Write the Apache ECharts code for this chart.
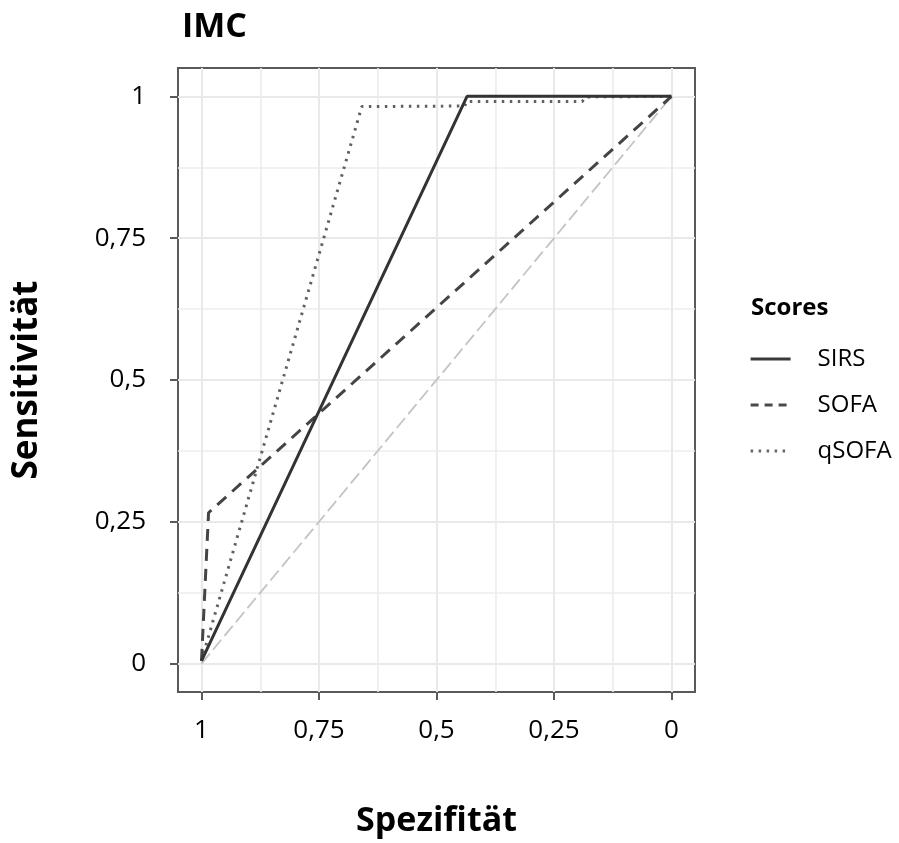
<!DOCTYPE html>
<html>
<head>
<meta charset="utf-8">
<script src="https://cdn.jsdelivr.net/npm/echarts@6/dist/echarts.min.js"></script>
<style>
html,body{margin:0;padding:0;background:#fff;}
#chart{width:899px;height:843px;}
</style>
</head>
<body>
<div id="chart"></div>
<script>
// ---- data ----
const majorTicks = [0, 0.25, 0.5, 0.75, 1];
const minorTicks = [0.125, 0.375, 0.625, 0.875];
const seriesNames = ['SIRS', 'SOFA', 'qSOFA'];

const sirsSpec = [1, 0.435, 0];
const sirsSens = [0.005, 1, 1];

const sofaSpec = [1, 0.985, 0];
const sofaSens = [0.005, 0.266, 1];

const qsofaSpec = [1, 0.659, 0.44, 0.436, 0.19, 0.182, 0];
const qsofaSens = [0.005, 0.982, 0.983, 0.991, 0.991, 0.999, 1];

const refSpec = [1, 0];
const refSens = [0, 1];

// ---- chart ----
const FONT = 'Open Sans';
const pairs = (xs, ys) => xs.map((x, i) => [x, ys[i]]);
const fmt = v => String(v).replace('.', ',');

const axisCommon = {
  type: 'value', min: -0.05, max: 1.05,
  axisLine: { show: false, onZero: false },
};

const legendDash = {
  SIRS: { type: 'solid', color: '#3a3a3a' },
  SOFA: { type: [8, 6], color: '#4a4a4a' },
  qSOFA: { type: [2.5, 5.5], color: '#666666' }
};

const chart = echarts.init(document.getElementById('chart'), null, { renderer: 'canvas' });
chart.setOption({
  animation: false,
  backgroundColor: '#ffffff',
  title: [
    { text: 'IMC', left: 177, top: 5,
      textStyle: { fontFamily: FONT, fontWeight: 'bold', fontSize: 34, color: '#000' } },
    { text: 'Scores', left: 746, top: 291,
      textStyle: { fontFamily: FONT, fontWeight: 'bold', fontSize: 24, color: '#000' } }
  ],
  legend: {
    data: seriesNames.map(n => ({ name: n, lineStyle: Object.assign({ width: 3.2 }, legendDash[n]) })),
    orient: 'vertical',
    left: 744, top: 342,
    itemWidth: 40, itemHeight: 14,
    itemGap: 22,
    itemStyle: { opacity: 0 },
    textStyle: { fontFamily: FONT, fontSize: 24, color: '#000', padding: [0, 0, 0, 22] }
  },
  grid: {
    left: 178, right: 204, top: 68, bottom: 151,
    show: true, borderColor: '#5a5a5a', borderWidth: 2, backgroundColor: '#fff',
    containLabel: false,
    outerBoundsMode: 'none'
  },
  xAxis: [
    Object.assign({}, axisCommon, {
      inverse: true, position: 'bottom',
      name: 'Spezifität', nameLocation: 'middle', nameGap: 112,
      nameTextStyle: { fontFamily: FONT, fontWeight: 'bold', fontSize: 34, color: '#000' },
      axisTick: { show: true, inside: false, length: 8, customValues: majorTicks,
        lineStyle: { color: '#5a5a5a', width: 2 } },
      axisLabel: { customValues: majorTicks, formatter: fmt, margin: 26,
        fontFamily: FONT, fontSize: 26, color: '#000' },
      splitLine: { show: true, lineStyle: { color: '#e9e9e9', width: 2 } }
    }),
    Object.assign({}, axisCommon, {
      inverse: true, position: 'top',
      axisTick: { show: false, customValues: minorTicks },
      axisLabel: { show: false, customValues: minorTicks },
      splitLine: { show: true, lineStyle: { color: '#ececec', width: 1.6 } }
    })
  ],
  yAxis: [
    Object.assign({}, axisCommon, {
      position: 'left',
      name: 'Sensitivität', nameLocation: 'middle', nameGap: 133, nameRotate: 90,
      nameTextStyle: { fontFamily: FONT, fontWeight: 'bold', fontSize: 35, color: '#000' },
      axisTick: { show: true, inside: false, length: 8, customValues: majorTicks,
        lineStyle: { color: '#5a5a5a', width: 2 } },
      axisLabel: { customValues: majorTicks, formatter: fmt, margin: 32,
        fontFamily: FONT, fontSize: 26, color: '#000' },
      splitLine: { show: true, lineStyle: { color: '#e9e9e9', width: 2 } }
    }),
    Object.assign({}, axisCommon, {
      position: 'right',
      axisTick: { show: false, customValues: minorTicks },
      axisLabel: { show: false, customValues: minorTicks },
      splitLine: { show: true, lineStyle: { color: '#ececec', width: 1.6 } }
    })
  ],
  series: [
    { name: 'ref', type: 'line', data: pairs(refSpec, refSens), showSymbol: false, symbol: 'none',
      silent: true, z: 1,
      lineStyle: { color: '#c4c4c4', width: 1.8, type: [13, 5] } },
    { name: 'qSOFA', type: 'line', data: pairs(qsofaSpec, qsofaSens), symbol: 'none', z: 2,
      itemStyle: { color: '#606060' },
      lineStyle: { color: '#606060', width: 3, type: [2.5, 5.5] } },
    { name: 'SOFA', type: 'line', data: pairs(sofaSpec, sofaSens), symbol: 'none', z: 3,
      itemStyle: { color: '#444444' },
      lineStyle: { color: '#444444', width: 3, type: [12, 8] } },
    { name: 'SIRS', type: 'line', data: pairs(sirsSpec, sirsSens), symbol: 'none', z: 4,
      itemStyle: { color: '#333333' },
      lineStyle: { color: '#333333', width: 3, type: 'solid' } }
  ]
});
</script>
</body>
</html>
